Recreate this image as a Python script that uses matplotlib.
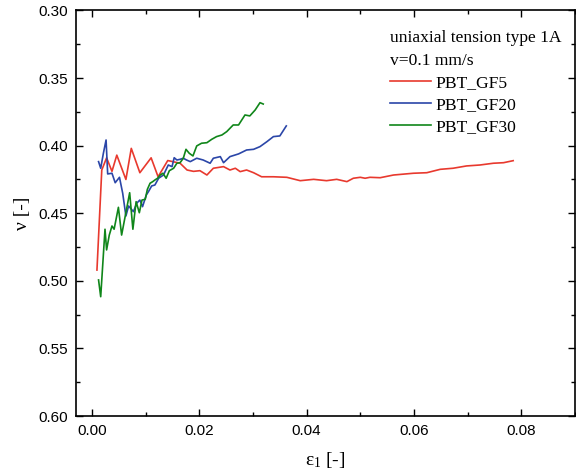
import matplotlib
matplotlib.use("Agg")
import matplotlib.pyplot as plt
from matplotlib.ticker import MultipleLocator, FormatStrFormatter

# Strain (epsilon_1) and Poisson's ratio (nu) for each material
eps_gf5 = [0.0009, 0.0018, 0.0027, 0.0037, 0.0046, 0.0063, 0.0073, 0.0089, 0.0110,
           0.0123, 0.0141, 0.0164, 0.0177, 0.0189, 0.0201, 0.0214, 0.0226, 0.0245,
           0.0257, 0.0267, 0.0276, 0.0288, 0.0301, 0.0316, 0.0338, 0.0363, 0.0388,
           0.0413, 0.0437, 0.0456, 0.0475, 0.0487, 0.0500, 0.0509, 0.0518, 0.0537,
           0.0562, 0.0599, 0.0624, 0.0649, 0.0673, 0.0698, 0.0723, 0.0748, 0.0767,
           0.0785]
nu_gf5 = [0.492, 0.418, 0.409, 0.419, 0.407, 0.425, 0.402, 0.420, 0.409,
          0.423, 0.411, 0.413, 0.418, 0.419, 0.4185, 0.4217, 0.4167, 0.4155,
          0.418, 0.4167, 0.4192, 0.418, 0.420, 0.423, 0.423, 0.4234, 0.4259,
          0.4249, 0.4259, 0.4249, 0.4266, 0.4241, 0.4234, 0.4241, 0.4234, 0.4237,
          0.4217, 0.4204, 0.420, 0.4175, 0.4167, 0.415, 0.4143, 0.413, 0.4126,
          0.4111]

eps_gf20 = [0.0012, 0.0016, 0.0021, 0.0026, 0.0029, 0.0037, 0.0043, 0.0051, 0.0057,
            0.0063, 0.0068, 0.0077, 0.0083, 0.0089, 0.0094, 0.0101, 0.0105, 0.0111,
            0.0117, 0.0124, 0.0133, 0.0142, 0.0149, 0.0153, 0.0158, 0.0164, 0.0170,
            0.0176, 0.0183, 0.0195, 0.0207, 0.0220, 0.0226, 0.0239, 0.0245, 0.0257,
            0.0273, 0.0288, 0.0301, 0.0313, 0.0326, 0.0338, 0.0350, 0.0362]
nu_gf20 = [0.4118, 0.4167, 0.4056, 0.3958, 0.4209, 0.4204, 0.4274, 0.4234, 0.4352,
           0.452, 0.4446, 0.4488, 0.4426, 0.4402, 0.4451, 0.4365, 0.434, 0.4298,
           0.4291, 0.4241, 0.4217, 0.4143, 0.4155, 0.4089, 0.4106, 0.4101, 0.4093,
           0.4106, 0.4118, 0.4093, 0.4106, 0.413, 0.4093, 0.4081, 0.4126, 0.4081,
           0.4061, 0.4032, 0.4027, 0.4007, 0.397, 0.3933, 0.3928, 0.3854]

eps_gf30 = [0.0012, 0.0016, 0.0024, 0.0027, 0.0032, 0.0037, 0.0041, 0.0049, 0.0055,
            0.0070, 0.0076, 0.0082, 0.0088, 0.0093, 0.0099, 0.0103, 0.0108, 0.0113,
            0.0117, 0.0122, 0.0127, 0.0132, 0.0138, 0.0144, 0.0152, 0.0158, 0.0164,
            0.0170, 0.0175, 0.0181, 0.0188, 0.0195, 0.0204, 0.0214, 0.0223, 0.0232,
            0.0242, 0.0251, 0.0263, 0.0273, 0.0279, 0.0285, 0.0294, 0.0304, 0.0313,
            0.0319]
nu_gf30 = [0.4993, 0.5117, 0.4618, 0.4771, 0.4661, 0.4594, 0.4618, 0.4456, 0.4661,
           0.4348, 0.4618, 0.4414, 0.4496, 0.4402, 0.4397, 0.4323, 0.4278, 0.4266,
           0.4254, 0.4241, 0.4217, 0.4204, 0.4241, 0.4185, 0.4167, 0.413, 0.4126,
           0.4093, 0.4027, 0.4056, 0.4076, 0.4002, 0.3982, 0.3978, 0.3953, 0.3933,
           0.3921, 0.3896, 0.3847, 0.3847, 0.381, 0.3773, 0.378, 0.3736, 0.3682,
           0.3692]

series = [
    ("PBT_GF5", eps_gf5, nu_gf5, "#e8392e"),
    ("PBT_GF20", eps_gf20, nu_gf20, "#2b46a8"),
    ("PBT_GF30", eps_gf30, nu_gf30, "#10861a"),
]

x_ticks = [0.00, 0.02, 0.04, 0.06, 0.08]
y_ticks = [0.30, 0.35, 0.40, 0.45, 0.50, 0.55, 0.60]

fig = plt.figure(figsize=(5.76, 4.75), dpi=100)
ax = fig.add_axes([0.132, 0.124, 0.866, 0.854])

for name, x, y, c in series:
    ax.plot(x, y, color=c, lw=1.2, label=name)

ax.set_xlim(-0.003, 0.09)
ax.set_ylim(0.60, 0.30)
ax.set_xticks(x_ticks)
ax.set_yticks(y_ticks)
ax.xaxis.set_minor_locator(MultipleLocator(0.01))
ax.yaxis.set_minor_locator(MultipleLocator(0.025))
ax.xaxis.set_major_formatter(FormatStrFormatter("%.2f"))
ax.yaxis.set_major_formatter(FormatStrFormatter("%.2f"))

ax.tick_params(which="both", direction="in", top=True, right=True,
               width=1.0, labelsize=11)
ax.tick_params(axis="x", pad=6)
ax.tick_params(axis="y", pad=6)
ax.tick_params(which="major", length=5)
ax.tick_params(which="minor", length=3)
for lab in ax.get_xticklabels() + ax.get_yticklabels():
    lab.set_fontfamily("Liberation Sans")
for s in ax.spines.values():
    s.set_linewidth(1.2)

ax.set_xlabel(r"$\mathregular{\varepsilon_1}$ [-]", fontsize=14,
              fontfamily="Liberation Serif", labelpad=8)
ax.set_ylabel("ν [-]", fontsize=14, fontfamily="Liberation Serif", labelpad=5)

leg = ax.legend(title="uniaxial tension type 1A\nv=0.1 mm/s", loc="upper right",
                bbox_to_anchor=(0.981, 0.9605),
                frameon=False, alignment="left", handlelength=2.3,
                handletextpad=0.3, labelspacing=0.33,
                prop={"family": "Liberation Serif", "size": 12.6},
                title_fontproperties={"family": "Liberation Serif", "size": 12.6},
                borderaxespad=0.0, borderpad=0.2)
leg.get_title().set_linespacing(1.6)
leg._legend_box.sep = 4

fig.savefig("out.png", dpi=100)
